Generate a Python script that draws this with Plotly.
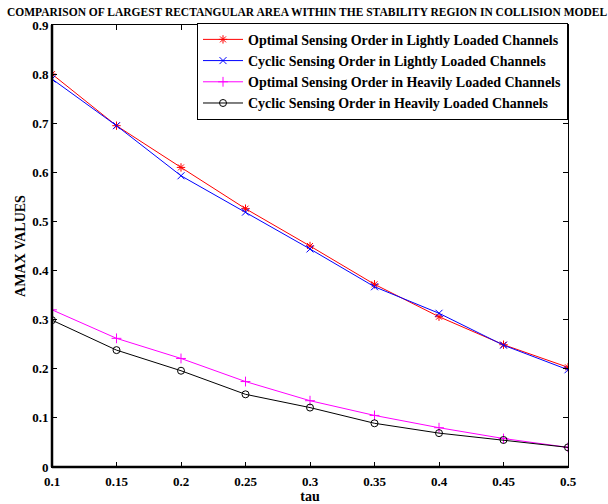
import plotly.graph_objects as go

tau = [0.1, 0.15, 0.2, 0.25, 0.3, 0.35, 0.4, 0.45, 0.5]
opt_light = [0.800, 0.695, 0.610, 0.526, 0.450, 0.372, 0.306, 0.249, 0.203]
cyc_light = [0.790, 0.695, 0.593, 0.519, 0.444, 0.367, 0.313, 0.248, 0.198]
opt_heavy = [0.320, 0.262, 0.221, 0.174, 0.135, 0.105, 0.080, 0.058, 0.040]
cyc_heavy = [0.299, 0.238, 0.196, 0.148, 0.121, 0.089, 0.069, 0.055, 0.040]
names = ["Optimal Sensing Order in Lightly Loaded Channels",
         "Cyclic Sensing Order in Lightly Loaded Channels",
         "Optimal Sensing Order in Heavily Loaded Channels",
         "Cyclic Sensing Order in Heavily Loaded Channels"]
xticks = [0.1, 0.15, 0.2, 0.25, 0.3, 0.35, 0.4, 0.45, 0.5]
xticklabels = ["0.1", "0.15", "0.2", "0.25", "0.3", "0.35", "0.4", "0.45", "0.5"]
yticks = [0, 0.1, 0.2, 0.3, 0.4, 0.5, 0.6, 0.7, 0.8, 0.9]
yticklabels = ["0", "0.1", "0.2", "0.3", "0.4", "0.5", "0.6", "0.7", "0.8", "0.9"]

FONT = "Liberation Serif"
series = [
    (opt_light, "#ff0000", "asterisk-open"),
    (cyc_light, "#0000ff", "x-thin-open"),
    (opt_heavy, "#ff00ff", "cross-thin-open"),
    (cyc_heavy, "#000000", "circle-open"),
]

fig = go.Figure()
for (vals, col, sym), nm in zip(series, names):
    fig.add_trace(go.Scatter(
        x=tau, y=vals, mode="lines+markers", name=nm,
        line=dict(color=col, width=1),
        marker=dict(symbol=sym, size=7, color=col, line=dict(color=col, width=1)),
    ))

fig.update_layout(
    width=608, height=504,
    paper_bgcolor="white", plot_bgcolor="white",
    margin=dict(l=52, r=40, t=25, b=37),
    font=dict(family=FONT, size=13, color="black"),
    title=dict(text="<b>COMPARISON OF LARGEST RECTANGULAR AREA WITHIN THE STABILITY REGION IN COLLISION MODEL</b>",
               font=dict(family=FONT, size=11.5, color="black"),
               x=0.505, xref="container", xanchor="center",
               y=0.977, yref="container", yanchor="middle"),
    legend=dict(x=1, xanchor="right", y=1.005, yanchor="top",
                bgcolor="white", bordercolor="black", borderwidth=1,
                font=dict(family=FONT, size=14, color="black", weight="bold"),
                tracegroupgap=0, itemwidth=40),
    showlegend=True,
)
fig.update_xaxes(range=[0.1, 0.5], tickvals=xticks, ticktext=["<b>%s</b>" % t for t in xticklabels],
                 ticks="inside", ticklen=5, tickcolor="black", showline=True, linecolor="black",
                 linewidth=1, mirror="ticks", showgrid=False, zeroline=False, automargin=False,
                 tickfont=dict(size=13), ticklabelstandoff=2,
                 title=dict(text="<b>tau</b>", standoff=2, font=dict(size=14)))
fig.update_yaxes(range=[0, 0.9], tickvals=yticks, ticktext=["<b>%s</b>" % t for t in yticklabels],
                 ticks="inside", ticklen=5, tickcolor="black", showline=True, linecolor="black",
                 linewidth=1, mirror="ticks", showgrid=False, zeroline=False, automargin=False,
                 tickfont=dict(size=13),
                 title=dict(text="<b>AMAX VALUES</b>", standoff=3, font=dict(size=14)))
fig.add_shape(type="line", xref="paper", yref="paper", x0=0, x1=0, y0=0, y1=1,
              line=dict(color="black", width=2.5))
fig.add_shape(type="line", xref="paper", yref="paper", x0=0, x1=1, y0=0, y1=0,
              line=dict(color="black", width=2.5))

fig.write_html("out.html")
